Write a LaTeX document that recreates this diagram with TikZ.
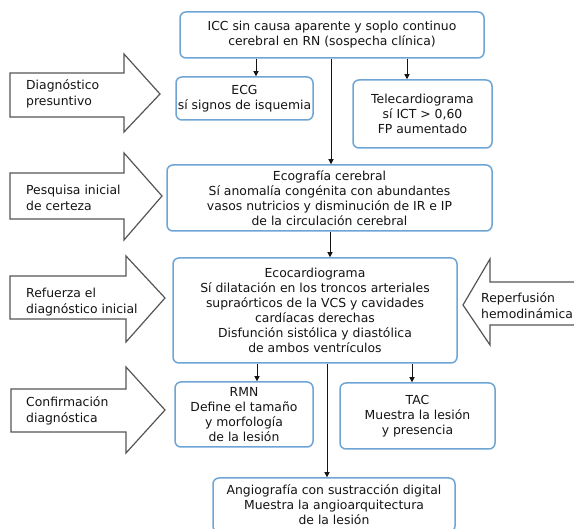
\documentclass[tikz,border=0pt]{standalone}
\usepackage{fontspec}
\setmainfont{DejaVu Sans}
\usetikzlibrary{arrows.meta}
\definecolor{boxblue}{RGB}{110,165,212}
\definecolor{arrgray}{RGB}{85,85,85}
\definecolor{txt}{RGB}{20,20,20}
\begin{document}
\begin{tikzpicture}[x=1pt,y=-1pt,
  box/.style={draw=boxblue, line width=1.5pt, rounded corners=6pt, fill=white,
    align=center, inner sep=0pt, text=txt, font=\fontsize{12.4}{15}\selectfont},
  bigarrow/.style={draw=arrgray, line width=1.2pt, fill=white, line join=miter},
  lbl/.style={align=left, anchor=west, inner sep=0pt, text=txt,
    font=\fontsize{12.4}{16}\selectfont},
  conn/.style={draw=txt, line width=1pt, -{Triangle[length=5pt,width=5pt]}}]
\clip (0,0) rectangle (574,529);
\fill[white] (0,0) rectangle (574,529);

% big block arrows
\draw[bigarrow] (10,73) -- (124,73) -- (124,54) -- (160,94) -- (124,132) -- (124,117) -- (10,117) -- cycle;
\draw[bigarrow] (10,173) -- (124,173) -- (124,153) -- (162,196) -- (124,240) -- (124,219) -- (10,219) -- cycle;
\draw[bigarrow] (10,276) -- (126,276) -- (126,256) -- (165,298) -- (126,342) -- (126,319) -- (10,319) -- cycle;
\draw[bigarrow] (11,389) -- (126,389) -- (126,367) -- (165,410) -- (126,453) -- (126,432) -- (11,432) -- cycle;
\draw[bigarrow] (590,282) -- (490,282) -- (490,259) -- (463,305) -- (490,345) -- (490,325) -- (590,325);

\node[lbl] (l1) at (26,93.5) {Diagnóstico\\presuntivo};
\node[lbl] (l2) at (26,197.5) {Pesquisa inicial\\de certeza};
\node[lbl] (l3) at (26,302.5) {Refuerza el\\diagnóstico inicial};
\node[lbl] (l4) at (26,411) {Confirmación\\diagnóstica};
\node[lbl] (l5) at (481,305.5) {Reperfusión\\hemodinámica};

% boxes
\node[box, minimum width=304pt, minimum height=46pt] (top) at (332,35)
  {ICC sin causa aparente y soplo continuo\\cerebral en RN (sospecha clínica)};
\node[box, minimum width=137pt, minimum height=43pt] (ecg) at (244.5,98.5)
  {ECG\\sí signos de isquemia};
\node[box, minimum width=139pt, minimum height=68pt] (tele) at (422.5,114)
  {Telecardiograma\\sí ICT > 0,60\\FP aumentado};
\node[box, minimum width=325pt, minimum height=66pt] (ecog) at (329.5,198)
  {Ecografía cerebral\\Sí anomalía congénita con abundantes\\vasos nutricios y disminución de IR e IP\\de la circulación cerebral};
\node[box, minimum width=284pt, minimum height=105pt] (ecoc) at (315,310.5)
  {Ecocardiograma\\Sí dilatación en los troncos arteriales\\supraórticos de la VCS y cavidades\\cardíacas derechas\\Disfunción sistólica y diastólica\\de ambos ventrículos};
\node[box, minimum width=138pt, minimum height=65pt] (rmn) at (244,414.5)
  {RMN\\Define el tamaño\\y morfología\\de la lesión};
\node[box, minimum width=155pt, minimum height=66pt] (tac) at (417.5,416)
  {TAC\\Muestra la lesión\\y presencia};
\node[box, minimum width=242pt, minimum height=54pt] (angio) at (334,505)
  {Angiografía con sustracción digital\\Muestra la angioarquitectura\\de la lesión};

% connectors
\draw[conn] ([xshift=11.5pt]ecg.north |- top.south) -- ([xshift=11.5pt]ecg.north);
\draw[conn] ([xshift=-15.5pt]tele.north |- top.south) -- ([xshift=-15.5pt]tele.north);
\draw[conn] ([xshift=1.5pt]ecog.north |- top.south) -- ([xshift=1.5pt]ecog.north);
\draw[conn] ([xshift=0.5pt]ecog.south) -- ([xshift=0.5pt]ecog.south |- ecoc.north);
\draw[conn] ([xshift=13pt]rmn.north |- ecoc.south) -- ([xshift=13pt]rmn.north);
\draw[conn] ([xshift=-5.5pt]tac.north |- ecoc.south) -- ([xshift=-5.5pt]tac.north);
\draw[conn] ([xshift=-7pt]angio.north |- ecoc.south) -- ([xshift=-7pt]angio.north);
\end{tikzpicture}
\end{document}
